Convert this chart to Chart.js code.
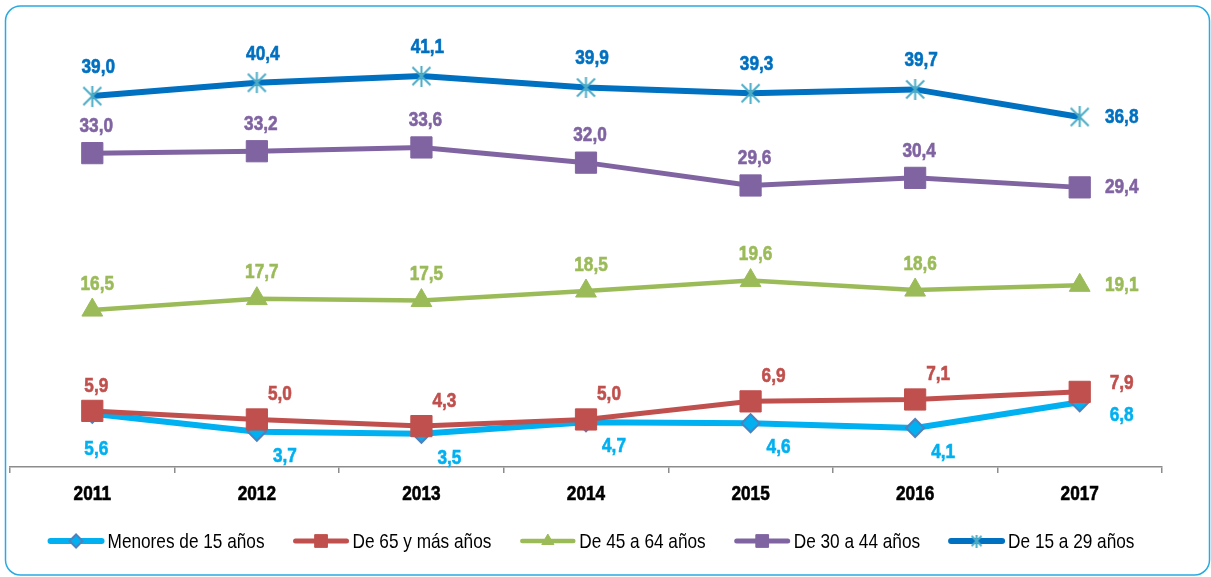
<!DOCTYPE html>
<html>
<head>
<meta charset="utf-8">
<script src="https://cdn.jsdelivr.net/npm/chart.js@4"></script>
<style>
  html, body { margin: 0; padding: 0; background: #fff; }
  #wrap { position: relative; width: 1211px; height: 577px; }
</style>
</head>
<body>
<div id="wrap"><canvas id="chart" width="1211" height="577"></canvas></div>
<script>
const years = ["2011", "2012", "2013", "2014", "2015", "2016", "2017"];
const seriesNames = ["Menores de 15 años", "De 65 y más años", "De 45 a 64 años", "De 30 a 44 años", "De 15 a 29 años"];

const menores15 = [5.6, 3.7, 3.5, 4.7, 4.6, 4.1, 6.8];
const de65ymas = [5.9, 5.0, 4.3, 5.0, 6.9, 7.1, 7.9];
const de45a64 = [16.5, 17.7, 17.5, 18.5, 19.6, 18.6, 19.1];
const de30a44 = [33.0, 33.2, 33.6, 32.0, 29.6, 30.4, 29.4];
const de15a29 = [39.0, 40.4, 41.1, 39.9, 39.3, 39.7, 36.8];

// no Arial Narrow here, so squeeze Liberation Sans horizontally
const FONT = '"Liberation Sans", Arial, sans-serif';
const NARROW = 0.82;

function narrowText(ctx, text, x, y, align, heavy) {
  ctx.save();
  ctx.translate(x, y);
  ctx.scale(NARROW, 1);
  ctx.textAlign = align;
  ctx.fillText(text, 0, 0);
  if (heavy) {
    ctx.strokeStyle = ctx.fillStyle;
    ctx.lineWidth = 0.6;
    ctx.strokeText(text, 0, 0);
  }
  ctx.restore();
}

// asterisk marker like excel's star (X + vertical bar)
function makeStar(size, color) {
  const c = document.createElement("canvas");
  c.width = size; c.height = size;
  const g = c.getContext("2d");
  g.strokeStyle = color;
  g.lineWidth = 2;
  const m = 1.5;
  g.beginPath();
  g.moveTo(m, m); g.lineTo(size - m, size - m);
  g.moveTo(size - m, m); g.lineTo(m, size - m);
  g.moveTo(size / 2, 0); g.lineTo(size / 2, size);
  g.stroke();
  return c;
}
const starBig = makeStar(21, "#4BACC6");
const starSmall = makeStar(13, "#4BACC6");

const frame = {
  id: "frame",
  beforeDraw(chart) {
    const ctx = chart.ctx;
    ctx.save();
    ctx.strokeStyle = "#29ABE2";
    ctx.lineWidth = 1.5;
    ctx.beginPath();
    ctx.roundRect(5.5, 6, 1204, 569, 15);
    ctx.stroke();
    ctx.restore();
  }
};

const yearLabels = {
  id: "yearLabels",
  afterDraw(chart) {
    const ctx = chart.ctx;
    const xs = chart.scales.x;
    ctx.save();
    ctx.font = "bold 21px " + FONT;
    ctx.fillStyle = "#000";
    ctx.textBaseline = "middle";
    years.forEach((y, i) => narrowText(ctx, y, xs.getPixelForTick(i), 494, "center", true));
    ctx.restore();
  }
};

const valueLabels = {
  id: "valueLabels",
  afterDatasetsDraw(chart) {
    const ctx = chart.ctx;
    ctx.save();
    ctx.font = "bold 21px " + FONT;
    ctx.textBaseline = "middle";
    chart.data.datasets.forEach((ds, i) => {
      const pts = chart.getDatasetMeta(i).data;
      const lp = ds.labelPos;
      ctx.fillStyle = lp.color;
      pts.forEach((p, j) => {
        let dx = lp.dx, dy = lp.dy;
        if (j === 0 && lp.firstDx !== undefined) dx = lp.firstDx;
        if (j === 0 && lp.firstDy !== undefined) dy = lp.firstDy;
        if (j === pts.length - 1) { dx = 42; dy = lp.lastDy; }
        narrowText(ctx, ds.data[j].toFixed(1).replace(".", ","), p.x + dx, p.y + dy, "center", true);
      });
    });
    ctx.restore();
  }
};

const bottomLegend = {
  id: "bottomLegend",
  afterDraw(chart) {
    const ctx = chart.ctx;
    ctx.save();
    ctx.font = "21px " + FONT;
    ctx.textBaseline = "middle";
    const lineLen = 57, gapText = 3, gapItem = 28;
    const items = chart.data.datasets.map(ds => ({ ds, w: ctx.measureText(ds.label).width * NARROW }));
    const total = items.reduce((s, it) => s + lineLen + gapText + it.w, 0) + gapItem * (items.length - 1);
    let x = 591 - total / 2;
    const y = 541;
    items.forEach(it => {
      const ds = it.ds;
      ctx.strokeStyle = ds.borderColor;
      ctx.lineWidth = ds.borderWidth;
      ctx.lineCap = "round";
      ctx.beginPath();
      ctx.moveTo(x + 3, y);
      ctx.lineTo(x + lineLen - 3, y);
      ctx.stroke();
      ctx.lineCap = "butt";
      ctx.fillStyle = ds.pointBackgroundColor;
      ctx.strokeStyle = ds.pointBorderColor;
      ctx.lineWidth = ds.pointBorderWidth;
      const style = ds.legendStyle || ds.pointStyle;
      Chart.helpers.drawPoint(ctx, { pointStyle: style, rotation: 0, radius: ds.legendRadius, borderWidth: ds.pointBorderWidth }, x + lineLen / 2, y);
      ctx.fillStyle = "#000";
      narrowText(ctx, ds.label, x + lineLen + gapText, y + 1, "left", false);
      x += lineLen + gapText + it.w + gapItem;
    });
    ctx.restore();
  }
};

new Chart(document.getElementById("chart"), {
  type: "line",
  data: {
    labels: years,
    datasets: [
      {
        label: seriesNames[0], data: menores15, order: 5,
        borderColor: "#00B0F0", borderWidth: 6,
        pointStyle: "rectRot", pointRadius: 9, legendRadius: 6.5,
        pointBackgroundColor: "#00B0F0", pointBorderColor: "#4F81BD", pointBorderWidth: 2,
        labelPos: { color: "#00B0F0", dx: 28, dy: 24, firstDx: 4, firstDy: 35, lastDy: 13 }
      },
      {
        label: seriesNames[1], data: de65ymas, order: 4,
        borderColor: "#C0504D", borderWidth: 5,
        pointStyle: "rect", pointRadius: 15, legendRadius: 9,
        pointBackgroundColor: "#C0504D", pointBorderColor: "#C0504D", pointBorderWidth: 1,
        labelPos: { color: "#C0504D", dx: 23, dy: -25, firstDx: 4, lastDy: -9 }
      },
      {
        label: seriesNames[2], data: de45a64, order: 3,
        borderColor: "#9BBB59", borderWidth: 4.5,
        pointStyle: "triangle", pointRadius: 12, legendRadius: 7,
        pointBackgroundColor: "#9BBB59", pointBorderColor: "#9BBB59", pointBorderWidth: 1,
        labelPos: { color: "#9BBB59", dx: 5, dy: -26, lastDy: 0 }
      },
      {
        label: seriesNames[3], data: de30a44, order: 2,
        borderColor: "#8064A2", borderWidth: 5,
        pointStyle: "rect", pointRadius: 15, legendRadius: 9,
        pointBackgroundColor: "#8064A2", pointBorderColor: "#8064A2", pointBorderWidth: 1,
        labelPos: { color: "#8064A2", dx: 4, dy: -27, lastDy: 0 }
      },
      {
        label: seriesNames[4], data: de15a29, order: 1,
        borderColor: "#0070C0", borderWidth: 6,
        pointStyle: starBig, legendStyle: starSmall, pointRadius: 10, legendRadius: 6,
        pointBackgroundColor: "#4BACC6", pointBorderColor: "#4BACC6", pointBorderWidth: 0,
        labelPos: { color: "#0070C0", dx: 6, dy: -29, lastDy: 0 }
      }
    ]
  },
  options: {
    responsive: false,
    animation: false,
    layout: { autoPadding: false, padding: { left: 10, right: 49, top: 39, bottom: 65 } },
    plugins: { legend: { display: false }, tooltip: { enabled: false } },
    elements: { line: { tension: 0 } },
    scales: {
      y: { display: false, min: 0, max: 45 },
      x: {
        offset: true,
        afterFit: (scale) => { scale.height = 45; },
        grid: { offset: true, drawOnChartArea: false, drawTicks: true, tickLength: 6, color: "#8C8C8C", lineWidth: 1.5 },
        border: { display: true, color: "#8C8C8C", width: 1.5 },
        ticks: { display: false }
      }
    }
  },
  plugins: [frame, yearLabels, valueLabels, bottomLegend]
});
</script>
</body>
</html>
